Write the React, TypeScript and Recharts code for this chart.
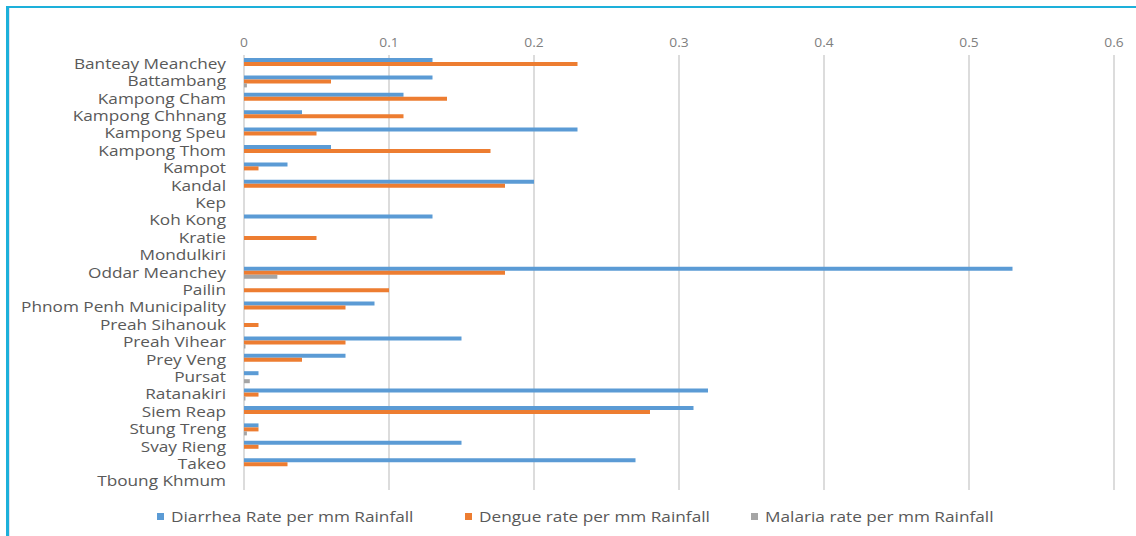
import { BarChart, Bar, XAxis, YAxis, CartesianGrid, Legend } from 'recharts';

// ──────────────────────────────────────────────────────────
// Data (rate per mm rainfall, by province)
// ──────────────────────────────────────────────────────────

const PROVINCES = [
  'Banteay Meanchey',
  'Battambang',
  'Kampong Cham',
  'Kampong Chhnang',
  'Kampong Speu',
  'Kampong Thom',
  'Kampot',
  'Kandal',
  'Kep',
  'Koh Kong',
  'Kratie',
  'Mondulkiri',
  'Oddar Meanchey',
  'Pailin',
  'Phnom Penh Municipality',
  'Preah Sihanouk',
  'Preah Vihear ',
  'Prey Veng',
  'Pursat',
  'Ratanakiri',
  'Siem Reap',
  'Stung Treng',
  'Svay Rieng',
  'Takeo',
  'Tboung Khmum',
];

const DIARRHEA = [
  0.13, 0.13, 0.11, 0.04, 0.23, 0.06, 0.03, 0.2, 0, 0.13, 0, 0, 0.53, 0, 0.09,
  0, 0.15, 0.07, 0.01, 0.32, 0.31, 0.01, 0.15, 0.27, 0,
];

const DENGUE = [
  0.23, 0.06, 0.14, 0.11, 0.05, 0.17, 0.01, 0.18, 0, 0, 0.05, 0, 0.18, 0.1,
  0.07, 0.01, 0.07, 0.04, 0, 0.01, 0.28, 0.01, 0.01, 0.03, 0,
];

const MALARIA = [
  0, 0.002, 0, 0, 0, 0, 0, 0, 0, 0, 0, 0, 0.023, 0, 0, 0, 0.001, 0, 0.004,
  0.001, 0, 0.002, 0, 0, 0,
];

const X_TICKS = [0, 0.1, 0.2, 0.3, 0.4, 0.5, 0.6];

const SERIES = [
  { key: 'diarrhea', name: 'Diarrhea Rate per mm Rainfall', color: '#5B9BD5' },
  { key: 'dengue', name: 'Dengue rate per mm Rainfall', color: '#ED7D31' },
  { key: 'malaria', name: 'Malaria rate per mm Rainfall', color: '#A5A5A5' },
];

const chartData = PROVINCES.map((name, i) => ({
  name,
  diarrhea: DIARRHEA[i],
  dengue: DENGUE[i],
  malaria: MALARIA[i],
}));

const FONT = '"Open Sans", "DejaVu Sans", sans-serif';

// the original export is stretched sideways, so the text is too
function ProvinceTick({ x, y, payload }: any) {
  return (
    <g transform={`translate(${x},${y})`}>
      <text
        transform="scale(1.23,1)"
        textAnchor="end"
        dy="0.36em"
        fontSize={14}
        fill="#595959"
        fontFamily={FONT}
      >
        {payload.value}
      </text>
    </g>
  );
}

function ValueTick({ x, y, payload }: any) {
  return (
    <g transform={`translate(${x},${y})`}>
      <text
        transform="scale(1.15,1)"
        textAnchor="middle"
        fontSize={12}
        fill="#7f7f7f"
        fontFamily={FONT}
      >
        {payload.value}
      </text>
    </g>
  );
}

// ──────────────────────────────────────────────────────────
// Legend
// ──────────────────────────────────────────────────────────

function ChartLegend() {
  return (
    <div
      style={{
        display: 'flex',
        height: 20,
        alignItems: 'center',
        fontFamily: FONT,
        fontSize: 14,
        color: '#595959',
      }}
    >
      {SERIES.map((s, i) => (
        <div
          key={s.key}
          style={{
            display: 'flex',
            alignItems: 'center',
            marginLeft: i === 0 ? 157 : 0,
            width: i === 0 ? 308 : 286,
          }}
        >
          <span
            style={{
              display: 'inline-block',
              width: 7,
              height: 7,
              background: s.color,
              marginRight: 7,
            }}
          />
          <span
            style={{
              display: 'inline-block',
              transform: 'scaleX(1.23)',
              transformOrigin: 'left center',
              whiteSpace: 'nowrap',
            }}
          >
            {s.name}
          </span>
        </div>
      ))}
    </div>
  );
}

export default function App() {
  return (
    <div
      style={{
        position: 'absolute',
        left: 0,
        top: 0,
        width: 1136,
        height: 536,
        background: '#fff',
        overflow: 'hidden',
      }}
    >
      {/* frame */}
      <div
        style={{
          position: 'absolute',
          left: 6,
          top: 6,
          width: 1140,
          height: 528,
          borderTop: '2px solid #1DB0DA',
          borderLeft: '3px solid #1DB0DA',
          borderBottom: '1px solid #e8e8ee',
          boxShadow: 'inset 1px 0 0 #e4e2ee',
        }}
      />
      <div style={{ position: 'absolute', left: 0, top: 0 }}>
        <BarChart
          width={1136}
          height={536}
          data={chartData}
          layout="vertical"
          margin={{ top: 10, right: 22, left: 0, bottom: 26 }}
          barSize={4}
          barGap={0}
        >
          <CartesianGrid horizontal={false} stroke="#dcdcdc" strokeWidth={2} />
          <XAxis
            type="number"
            orientation="top"
            domain={[0, 0.6]}
            ticks={X_TICKS}
            height={45}
            axisLine={false}
            tickLine={false}
            tick={<ValueTick />}
          />
          <YAxis
            type="category"
            dataKey="name"
            width={244}
            axisLine={false}
            tickLine={false}
            tickMargin={12}
            interval={0}
            tick={<ProvinceTick />}
          />
          <Legend
            verticalAlign="bottom"
            content={<ChartLegend />}
            wrapperStyle={{ bottom: 10, left: 0 }}
          />
          {SERIES.map((s) => (
            <Bar
              key={s.key}
              dataKey={s.key}
              name={s.name}
              fill={s.color}
              isAnimationActive={false}
            />
          ))}
        </BarChart>
      </div>
    </div>
  );
}
